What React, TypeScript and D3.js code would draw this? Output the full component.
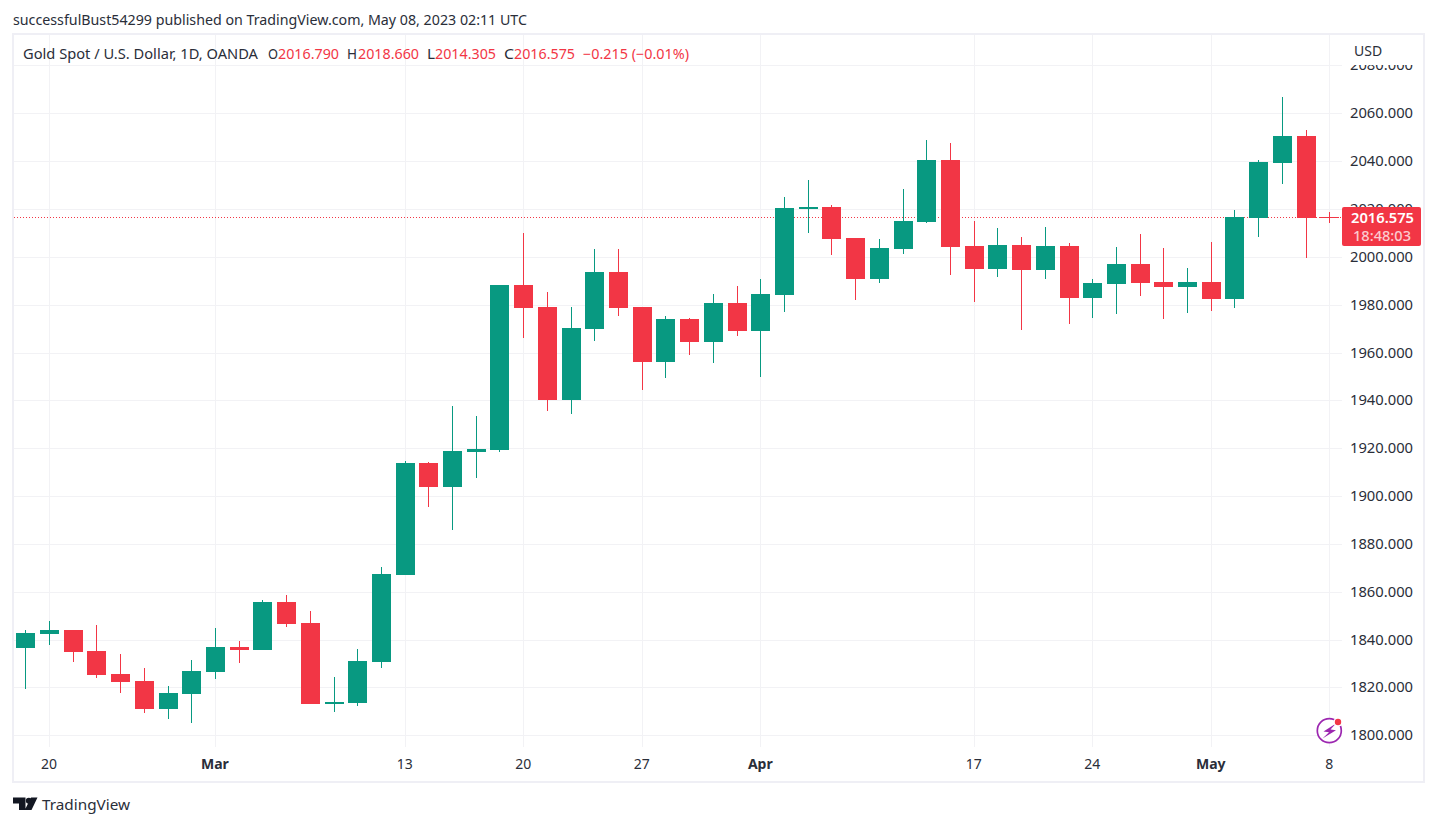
import React from "react";
import * as d3 from "d3";

const W = 1437;
const H = 826;

// Day index along the time axis (one index per trading day)
const tickDays = [1, 8, 16, 21, 26, 31, 40, 45, 50, 55];
const tickLabels = ["20", "Mar", "13", "20", "27", "Apr", "17", "24", "May", "8"];
const boldTicks = ["Mar", "Apr", "May"];
const priceTicks = [1800, 1820, 1840, 1860, 1880, 1900, 1920, 1940, 1960, 1980, 2000, 2020, 2040, 2060, 2080];

const opens = [1836.5, 1842.3, 1844.0, 1835.2, 1825.6, 1822.7, 1811.0, 1817.3, 1826.5, 1836.9, 1835.7, 1855.7, 1846.9, 1813.1, 1813.5, 1830.6, 1867.0, 1913.8, 1903.8, 1918.4, 1919.3, 1988.3, 1979.1, 1940.2, 1969.9, 1993.7, 1979.1, 1956.1, 1974.0, 1964.4, 1980.7, 1969.0, 1984.1, 2020.0, 2020.9, 2007.9, 1990.8, 2003.3, 2014.6, 2040.5, 2004.6, 1994.9, 2005.0, 1994.5, 2004.6, 1982.8, 1988.7, 1997.0, 1989.5, 1987.4, 1989.5, 1982.4, 2016.3, 2039.3, 2050.5, 2016.79];
const highs = [1844.0, 1847.8, 1844.0, 1846.1, 1834.0, 1828.1, 1820.6, 1831.5, 1844.9, 1839.4, 1856.6, 1858.7, 1852.0, 1824.4, 1836.1, 1870.4, 1914.7, 1914.3, 1937.7, 1933.5, 1988.3, 2010.0, 1985.3, 1979.1, 2003.3, 2003.3, 1979.1, 1975.3, 1974.5, 1984.5, 1987.8, 1990.8, 2025.0, 2032.1, 2021.7, 2007.9, 2007.5, 2028.4, 2048.9, 2047.6, 2015.0, 2012.1, 2008.3, 2012.5, 2005.8, 1990.8, 2004.1, 2009.6, 2003.7, 1995.4, 2006.2, 2019.6, 2040.5, 2066.8, 2053.1, 2018.66];
const lows = [1819.4, 1837.8, 1830.6, 1824.0, 1817.7, 1809.3, 1806.8, 1805.1, 1823.5, 1830.2, 1835.7, 1845.3, 1813.1, 1809.7, 1812.2, 1828.1, 1867.0, 1895.4, 1885.8, 1907.6, 1918.4, 1966.1, 1935.6, 1934.3, 1964.8, 1975.3, 1944.4, 1949.4, 1959.0, 1955.6, 1966.9, 1949.8, 1977.0, 2010.0, 2000.8, 1982.0, 1989.1, 2001.2, 2014.2, 1992.4, 1981.1, 1991.6, 1969.4, 1990.8, 1971.9, 1974.5, 1976.1, 1983.7, 1974.0, 1976.5, 1977.4, 1978.6, 2008.3, 2030.5, 1999.5, 2014.305];
const closes = [1842.8, 1844.0, 1834.8, 1825.2, 1822.3, 1811.0, 1817.7, 1826.9, 1836.9, 1835.7, 1855.7, 1846.5, 1813.1, 1813.9, 1831.1, 1867.4, 1913.8, 1903.8, 1918.9, 1919.7, 1988.3, 1978.6, 1940.2, 1970.3, 1993.7, 1978.6, 1956.1, 1974.0, 1964.4, 1980.7, 1969.0, 1984.5, 2020.4, 2020.9, 2007.5, 1990.8, 2003.7, 2015.0, 2040.5, 2004.1, 1994.9, 2005.0, 1994.5, 2004.6, 1982.8, 1989.1, 1997.0, 1989.1, 1987.4, 1989.5, 1982.4, 2016.7, 2039.7, 2050.5, 2016.3, 2016.575];

const GREEN = "#089981";
const RED = "#F23645";
const GRID = "#F2F2F5";
const FRAME = "#EFEFF5";
const TEXT = "#2A2E39";
const FONT = "'Noto Sans', sans-serif";

const x = d3.scaleLinear().domain([0, 55]).range([25.3, 1329.3]);
const y = d3.scaleLinear().domain([1800, 2060]).range([735.3, 113.3]);
const lastClose = closes[closes.length - 1];

const legendBits: [string, number, number, string][] = [
  ["Gold Spot / U.S. Dollar, 1D, OANDA", 23, 235, TEXT],
  ["O", 268, 10, TEXT],
  ["2016.790", 278, 61, RED],
  ["H", 347, 10, TEXT],
  ["2018.660", 358, 61, RED],
  ["L", 427, 8, TEXT],
  ["2014.305", 435, 61, RED],
  ["C", 504, 10, TEXT],
  ["2016.575", 514, 61, RED],
  ["\u22120.215 (\u22120.01%)", 583, 106, RED],
];

export default function App() {
  return (
    <svg width={W} height={H} style={{ position: "absolute", left: 0, top: 0, background: "#fff", fontFamily: FONT }}>
      <defs>
        <clipPath id="axisClip"><rect x={1342} y={65} width={83} height={690} /></clipPath>
      </defs>
      <text x={13} y={25} fontSize={14} fill={TEXT} textLength={514} lengthAdjust="spacingAndGlyphs">
        successfulBust54299 published on TradingView.com, May 08, 2023 02:11 UTC
      </text>
      <rect x={13} y={34} width={1411} height={748} fill="#fff" stroke={FRAME} strokeWidth={2} />

      {priceTicks.map((p) => (
        <line key={p} x1={14} x2={1342} y1={Math.round(y(p)) + 0.5} y2={Math.round(y(p)) + 0.5} stroke={GRID} />
      ))}
      {tickDays.map((d) => (
        <line key={d} x1={Math.round(x(d)) + 0.5} x2={Math.round(x(d)) + 0.5} y1={35} y2={747} stroke={GRID} />
      ))}

      <line x1={14} x2={1342} y1={217.5} y2={217.5} stroke={RED} strokeWidth={1} strokeDasharray="1 2" />

      {opens.map((o, i) => {
        const c = closes[i];
        const up = c >= o;
        const col = up ? GREEN : RED;
        const cx = Math.round(x(i)) + 0.5;
        const top = Math.round(y(Math.max(o, c)));
        const bot = Math.round(y(Math.min(o, c)));
        return (
          <g key={i} shapeRendering="crispEdges">
            <line x1={cx} x2={cx} y1={Math.round(y(highs[i]))} y2={Math.round(y(lows[i]))} stroke={col} strokeWidth={1} />
            <rect x={cx - 9.5} width={19} y={top} height={Math.max(bot - top, 1)} fill={col} />
          </g>
        );
      })}

      <g clipPath="url(#axisClip)">
        {priceTicks.map((p) => (
          <text key={p} x={1350} y={y(p)} dy="0.36em" fontSize={14} fill={TEXT} textLength={63} lengthAdjust="spacingAndGlyphs">
            {d3.format(".3f")(p)}
          </text>
        ))}
      </g>
      <text x={1354} y={56} fontSize={14} fill={TEXT}>USD</text>

      {tickDays.map((d, i) => (
        <text key={d} x={x(d)} y={769} fontSize={14} textAnchor="middle" fill={TEXT}
          fontWeight={boldTicks.includes(tickLabels[i]) ? 700 : 400}>
          {tickLabels[i]}
        </text>
      ))}

      {legendBits.map(([t, lx, w, col]) => (
        <text key={t + lx} x={lx} y={59} fontSize={14} fill={col} textLength={w} lengthAdjust="spacingAndGlyphs">{t}</text>
      ))}

      <rect x={1342} y={207} width={79} height={39} rx={2} fill={RED} />
      <text x={1351} y={223} fontSize={14} fontWeight={600} fill="#fff" textLength={63} lengthAdjust="spacingAndGlyphs">
        {d3.format(".3f")(lastClose)}
      </text>
      <text x={1353} y={241} fontSize={14} fontWeight={500} fill="#fff" fillOpacity={0.75} textLength={58} lengthAdjust="spacingAndGlyphs">18:48:03</text>

      <circle cx={1329.3} cy={730.7} r={12} fill="#fff" stroke="#9C27B0" strokeWidth={1.7} />
      <path d="M1336 723.5 L1323.5 731.5 L1329 732.3 L1322.5 738.5 L1336 730.2 L1330.5 729.4 Z" fill="#9C27B0" />
      <circle cx={1338} cy={722} r={4.6} fill="#fff" />
      <circle cx={1338} cy={722} r={3.2} fill={RED} />

      <path d="M13 797.5 H25.5 V810 H19 V803.5 H13 Z M31 797.5 H37.5 L31.5 810 H24.8 Z" fill="#131722" />
      <circle cx={28.8} cy={800.7} r={3} fill="#131722" />
      <text x={42} y={810} fontSize={15} fill={TEXT} textLength={88} lengthAdjust="spacingAndGlyphs">TradingView</text>
    </svg>
  );
}
